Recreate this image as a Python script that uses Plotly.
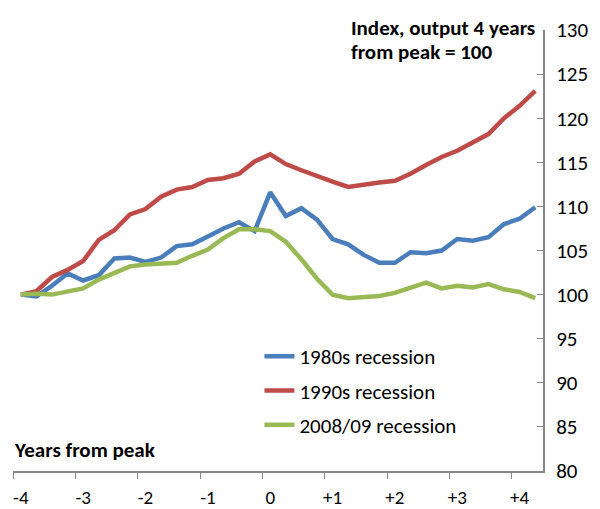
import plotly.graph_objects as go

# Quarters from -4 to +4.25 years from peak
quarters = [-4 + 0.25 * i for i in range(34)]

rec_1980s = [100.0, 99.8, 101.0, 102.4, 101.6, 102.2, 104.1, 104.2, 103.7, 104.2,
             105.5, 105.7, 106.6, 107.5, 108.2, 107.2, 111.6, 108.9, 109.8, 108.5,
             106.3, 105.7, 104.5, 103.6, 103.6, 104.8, 104.7, 105.0, 106.3, 106.1,
             106.5, 108.0, 108.6, 109.9]
rec_1990s = [100.0, 100.4, 102.0, 102.8, 103.8, 106.2, 107.3, 109.1, 109.7, 111.1,
             111.9, 112.2, 113.0, 113.2, 113.7, 115.1, 115.9, 114.8, 114.1, 113.4,
             112.8, 112.2, 112.5, 112.7, 112.9, 113.7, 114.7, 115.6, 116.3, 117.3,
             118.2, 120.0, 121.4, 123.1]
rec_2008 = [100.0, 100.1, 100.0, 100.3, 100.7, 101.7, 102.4, 103.2, 103.4, 103.5,
            103.6, 104.4, 105.1, 106.4, 107.4, 107.4, 107.2, 106.0, 104.0, 101.8,
            100.0, 99.6, 99.7, 99.85, 100.2, 100.8, 101.35, 100.7, 101.0, 100.8,
            101.2, 100.6, 100.3, 99.6]

series_names = ["1980s recession", "1990s recession", "2008/09 recession"]
series_colors = ["#4A7EBB", "#BE4B48", "#98B954"]

x_tick_vals = [-4, -3, -2, -1, 0, 1, 2, 3, 4]
x_tick_text = ["-4", "-3", "-2", "-1", "0", "+1", "+2", "+3", "+4"]
x_boundaries = [v - 0.125 for v in x_tick_vals]
y_tick_vals = [80, 85, 90, 95, 100, 105, 110, 115, 120, 125, 130]

FONT = "Calibri, Carlito, Lato, sans-serif"
AXIS_COLOR = "#868686"

fig = go.Figure()
for name, vals, col in zip(series_names, [rec_1980s, rec_1990s, rec_2008], series_colors):
    fig.add_trace(go.Scatter(
        x=quarters, y=vals, mode="lines", name=name, legendgroup=name,
        line=dict(color=col, width=4.5),
    ))

fig.update_layout(
    width=600, height=509,
    margin=dict(l=13, r=57, t=30, b=38, autoexpand=False),
    paper_bgcolor="white", plot_bgcolor="white",
    font=dict(family=FONT, size=21, color="#000000"),
    showlegend=True,
    legend=dict(
        x=0.465, y=0.306, xanchor="left", yanchor="top",
        bgcolor="rgba(0,0,0,0)", font=dict(size=21),
        tracegroupgap=4, itemwidth=30,
    ),
    xaxis=dict(
        range=[-4.125, 4.375], tickmode="array", tickvals=x_tick_vals,
        ticktext=x_tick_text, ticks="", showgrid=False, zeroline=False,
        showline=True, linecolor=AXIS_COLOR, linewidth=1.5,
        tickfont=dict(size=19), ticklabelstandoff=8, automargin=False,
        minor=dict(tickmode="array", tickvals=x_boundaries, ticks="outside",
                   ticklen=6, tickcolor=AXIS_COLOR, tickwidth=1, showgrid=False),
    ),
    yaxis=dict(
        side="right", range=[80, 130], tickmode="array", tickvals=y_tick_vals,
        ticks="inside", ticklen=6, tickcolor=AXIS_COLOR, tickwidth=1,
        showgrid=False, zeroline=False, showline=True, linecolor=AXIS_COLOR,
        linewidth=2, tickfont=dict(size=21), ticklabelstandoff=7, automargin=False,
    ),
    annotations=[
        dict(text="<b>Index, output 4 years</b>",
             xref="paper", yref="paper", x=0.634, y=1.0045, xanchor="left",
             yanchor="middle", showarrow=False, font=dict(size=21)),
        dict(text="<b>from peak = 100</b>",
             xref="paper", yref="paper", x=0.634, y=0.950, xanchor="left",
             yanchor="middle", showarrow=False, font=dict(size=21)),
        dict(text="<b>Years from peak</b>", xref="paper", yref="paper",
             x=-0.002, y=0.047, xanchor="left", yanchor="middle",
             showarrow=False, font=dict(size=21)),
    ],
)

fig.write_html("out.html", config={"displayModeBar": False},
               post_script="document.body.style.margin='0';")
